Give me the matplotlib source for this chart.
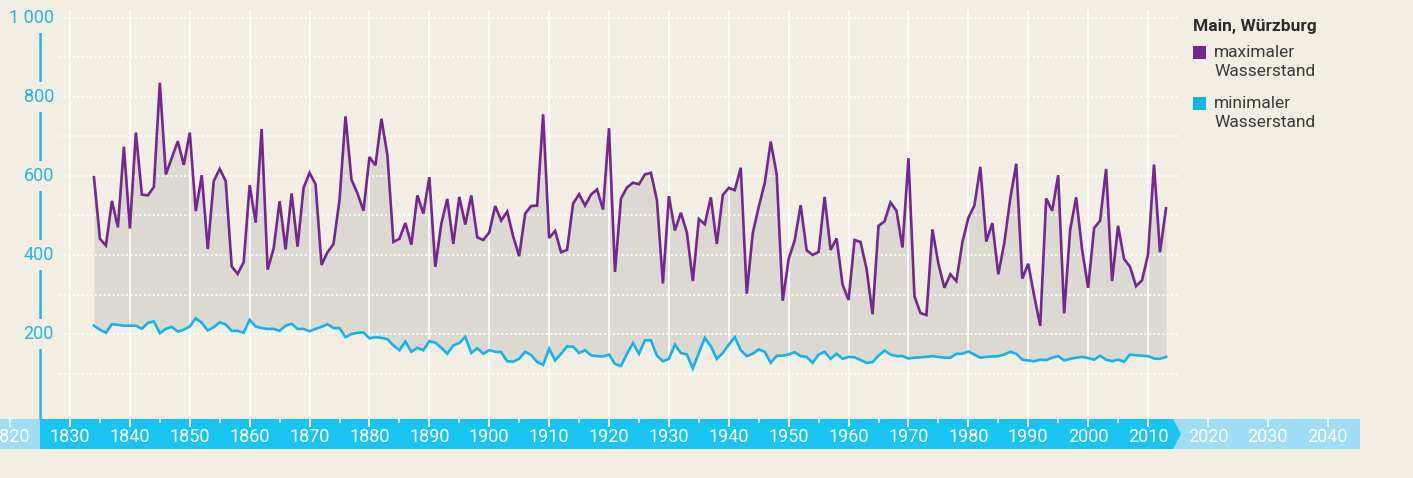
import numpy as np
import matplotlib
matplotlib.use('Agg')
import matplotlib.pyplot as plt
from matplotlib.patches import Rectangle, Polygon

# yearly water levels, Main at Wuerzburg (cm)
years = np.arange(1834, 2014)

max_level = [
    597, 441, 424, 537, 470, 674, 467, 710, 553, 551,
    572, 836, 604, 646, 688, 628, 710, 511, 602, 415,
    587, 618, 587, 371, 352, 382, 577, 482, 719, 363,
    416, 536, 414, 556, 421, 570, 608, 579, 375, 407,
    428, 539, 751, 591, 556, 512, 648, 627, 745, 652,
    433, 441, 481, 426, 551, 505, 597, 370, 479, 542,
    428, 547, 477, 551, 445, 438, 457, 524, 487, 510,
    447, 397, 505, 524, 525, 756, 443, 461, 407, 413,
    530, 554, 525, 553, 566, 515, 721, 357, 543, 571,
    583, 579, 604, 608, 539, 328, 549, 462, 507, 457,
    334, 491, 478, 546, 428, 552, 570, 564, 621, 302,
    455, 522, 582, 687, 604, 284, 390, 437, 526, 412,
    400, 408, 547, 413, 442, 325, 286, 438, 433, 365,
    250, 474, 485, 533, 512, 419, 645, 296, 253, 248,
    465, 378, 317, 351, 334, 432, 494, 525, 623, 434,
    481, 351, 430, 543, 631, 340, 378, 296, 221, 543,
    512, 602, 252, 464, 546, 413, 317, 468, 487, 618,
    334, 474, 390, 370, 321, 336, 401, 629, 407, 518,
]

min_level = [
    221, 211, 203, 225, 223, 221, 221, 221, 213, 228,
    232, 202, 213, 218, 206, 211, 219, 240, 228, 209,
    217, 230, 224, 208, 208, 203, 236, 219, 215, 213,
    213, 208, 221, 226, 213, 213, 207, 213, 218, 225,
    215, 215, 192, 200, 203, 204, 189, 192, 190, 187,
    171, 159, 181, 155, 165, 159, 182, 178, 165, 150,
    171, 177, 193, 152, 164, 150, 159, 155, 154, 131,
    130, 137, 155, 147, 129, 122, 163, 133, 150, 169,
    168, 152, 159, 146, 144, 143, 148, 124, 119, 150,
    177, 150, 184, 184, 145, 131, 137, 173, 152, 148,
    113, 152, 190, 169, 137, 152, 173, 192, 159, 144,
    150, 161, 155, 127, 145, 145, 148, 154, 144, 142,
    127, 148, 155, 137, 150, 137, 142, 141, 134, 127,
    129, 145, 158, 148, 144, 144, 138, 140, 141, 142,
    144, 142, 140, 140, 150, 150, 156, 148, 140, 142,
    143, 144, 148, 155, 150, 135, 133, 131, 135, 134,
    140, 144, 133, 137, 140, 142, 139, 135, 145, 135,
    131, 135, 130, 148, 146, 145, 144, 138, 137, 142,
]

y_ticks = [200, 400, 600, 800, 1000]
y_tick_labels = ['200', '400', '600', '800', '1 000']
grid_levels = np.arange(100, 1001, 100)
decades = np.arange(1820, 2041, 10)
half_decades = np.arange(1835, 2006, 10)
grid_decades = np.arange(1830, 2011, 10)

title = 'Main, Würzburg'
labels = ['maximaler\nWasserstand', 'minimaler\nWasserstand']

bg = '#f2eee4'
purple = '#74278f'
cyan = '#14b4ea'
fill_col = '#dcd9d2'
band_dark = '#19c3f2'
band_light = '#9fdcf7'
axis_blue = '#22b5ea'
text_dark = '#3a3a3a'

W, H = 1413, 478
fig = plt.figure(figsize=(W / 100, H / 100), dpi=100, facecolor=bg)
ax = fig.add_axes([0, 0, 1, 1])
ax.set_facecolor(bg)
ax.axis('off')

# pixel layout -> data limits (1830 at 70px, 6px per year; 0 at 413px, 79px per 200)
px_year = 5.989
px_val = 0.395
x0 = 1830 - 70 / px_year
ax.set_xlim(x0, x0 + W / px_year)
ax.set_ylim(-(H - 413) / px_val, 413 / px_val)

def xv(px):
    return x0 + px / px_year

def yv(py):
    return (413 - py) / px_val

# band along the bottom
band_top, band_bot = yv(419), yv(449)
ax.add_patch(Rectangle((xv(0), band_bot), xv(1360) - xv(0), band_top - band_bot,
                       facecolor=band_light, edgecolor='none', zorder=1))
ax.add_patch(Polygon([(xv(40), band_top), (xv(1173), band_top),
                      (xv(1181), (band_top + band_bot) / 2),
                      (xv(1173), band_bot), (xv(40), band_bot)],
                     closed=True, facecolor=band_dark, edgecolor='none', zorder=1))

# grey range between min and max
ax.fill_between(years, min_level, max_level, color=fill_col, lw=0, zorder=2)

# white vertical decade lines and dotted horizontal grid
ax.vlines(grid_decades, yv(427), yv(10), colors='white', lw=1.2, zorder=3)
ax.hlines(grid_levels, xv(60), xv(1178), colors='white', lw=1.6,
          linestyles=(0, (0.01, 2.0)), zorder=3, capstyle='round')

# ticks in the band
ax.vlines(decades, yv(427), band_top, colors='white', lw=1.2, zorder=4)
ax.vlines(half_decades, yv(423), band_top, colors='white', lw=1.2, zorder=4)
for d in decades:
    ax.text(d, yv(437), str(d), color='white', fontsize=13, fontfamily='Roboto',
            ha='center', va='center', zorder=5, clip_on=True)

# y axis line with labels
ax.vlines(xv(40), band_top, 1000, colors=axis_blue, lw=1.8, zorder=4)
for v, lab in zip(y_ticks, y_tick_labels):
    ax.text(xv(54), v, lab, color=axis_blue, fontsize=13, fontfamily='Roboto',
            ha='right', va='center', zorder=5,
            bbox=dict(facecolor=bg, edgecolor='none', pad=4.5))

# data lines
ax.plot(years, max_level, color=purple, lw=1.9, zorder=6, solid_joinstyle='miter')
ax.plot(years, min_level, color=cyan, lw=1.9, zorder=6, solid_joinstyle='miter')

# legend
fig.text(1193 / W, 1 - 31 / H, title, fontsize=12.5, fontweight='bold',
         fontfamily='Roboto', color='#2b2b2b', va='baseline', ha='left')
for lab, col, top in zip(labels, [purple, cyan], [46, 97]):
    fig.patches.append(Rectangle((1193 / W, 1 - (top + 13) / H), 13 / W, 13 / H,
                                 transform=fig.transFigure, facecolor=col,
                                 edgecolor='none'))
    fig.text(1214 / W, 1 - (top - 1) / H, lab, fontsize=12.5, fontfamily='Roboto',
             color=text_dark, va='top', ha='left', linespacing=1.3)

fig.savefig('out.png', dpi=100, facecolor=bg)
